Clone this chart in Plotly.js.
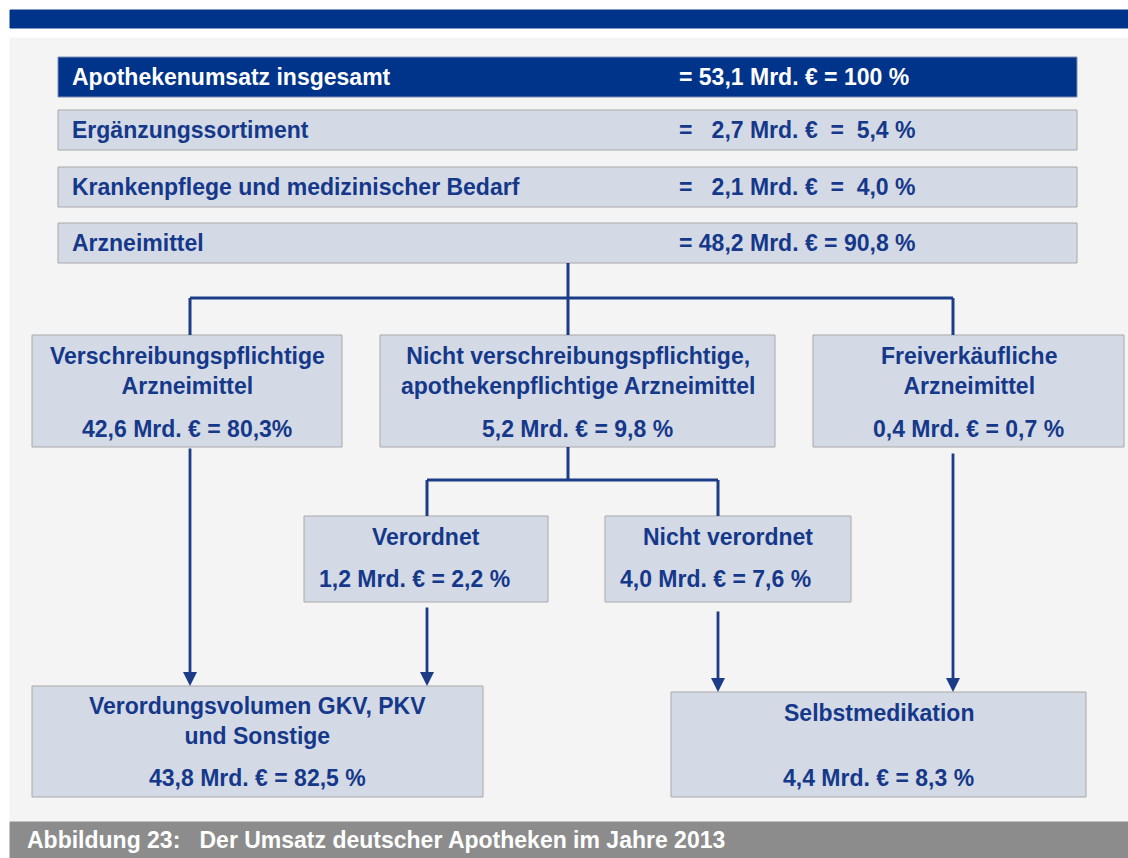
<!DOCTYPE html>
<html>
<head>
<meta charset="utf-8">
<script src="https://cdn.plot.ly/plotly-3.0.1.min.js"></script>
<style>
  body { margin: 0; background: #ffffff; }
  #chart { width: 1128px; height: 858px; }
</style>
</head>
<body>
<div id="chart"></div>
<script>
// Values (Mrd. € and % of total turnover)
var headNames = ['Apothekenumsatz insgesamt', 'Ergänzungssortiment', 'Krankenpflege und medizinischer Bedarf', 'Arzneimittel'];
var headAmounts = [53.1, 2.7, 2.1, 48.2];
var headShares = [100, 5.4, 4.0, 90.8];

var drugNames = ['Verschreibungspflichtige<br>Arzneimittel', 'Nicht verschreibungspflichtige,<br>apothekenpflichtige Arzneimittel', 'Freiverkäufliche<br>Arzneimittel'];
var drugAmounts = [42.6, 5.2, 0.4];
var drugShares = [80.3, 9.8, 0.7];

var otcNames = ['Verordnet', 'Nicht verordnet'];
var otcAmounts = [1.2, 4.0];
var otcShares = [2.2, 7.6];

var sumNames = ['Verordungsvolumen GKV, PKV<br>und Sonstige', 'Selbstmedikation'];
var sumAmounts = [43.8, 4.4];
var sumShares = [82.5, 8.3];

var caption = 'Abbildung 23:\u00a0\u00a0 Der Umsatz deutscher Apotheken im Jahre 2013';

// Layout of the boxes (pixel grid 1128 x 858, y downwards)
var headBoxes = [[58, 1077, 57, 97], [58, 1077, 110, 150], [58, 1077, 167, 207], [58, 1077, 223, 263]];
var drugBoxes = [[32, 342, 335, 447], [380, 775, 335, 447], [813, 1124, 335, 447]];
var otcBoxes = [[304, 548, 516, 602], [605, 851, 516, 602]];
var sumBoxes = [[32, 483, 686, 797], [671, 1086, 692, 797]];

var NAVY = '#00338a';
var TEXT = '#15388a';
var LINE = '#1d3c88';
var FILL = '#d4dae5';
var EDGE = '#a8a8a8';
var FONT = 'Liberation Sans, Arial, sans-serif';
var NB = '\u00a0';

function de(v) {
    return v >= 100 ? String(v) : v.toFixed(1).replace('.', ',');
}

var shapes = [];
var annotations = [];

function rect(b, fill, line) {
    shapes.push({type: 'rect', xref: 'x', yref: 'y', x0: b[0], x1: b[1], y0: b[2], y1: b[3],
        fillcolor: fill, line: {color: line, width: 1}, layer: 'below'});
}
function seg(x0, y0, x1, y1) {
    shapes.push({type: 'line', xref: 'x', yref: 'y', x0: x0, y0: y0, x1: x1, y1: y1,
        line: {color: LINE, width: 3}});
}
function label(x, y, text, color, anchor) {
    annotations.push({x: x, y: y, xref: 'x', yref: 'y', text: '<b>' + text + '</b>', showarrow: false,
        xanchor: anchor || 'center', yanchor: 'middle', align: 'center',
        font: {family: FONT, size: 23, color: color || TEXT}});
}
function arrow(x, yFrom, yTo) {
    annotations.push({x: x, y: yTo, ax: x, ay: yFrom, xref: 'x', yref: 'y', axref: 'x', ayref: 'y',
        text: '', showarrow: true, arrowhead: 2, arrowsize: 1, arrowwidth: 2.8,
        arrowcolor: LINE, standoff: 0, startstandoff: 0});
}

// background pieces
rect([10, 1128, 38, 822], '#f4f4f4', '#f4f4f4');
rect([10, 1128, 10, 28], NAVY, NAVY);
rect([10, 1128, 822, 858], '#8c8c8c', '#8c8c8c');
label(25, 840, caption, '#ffffff', 'left');

// top rows
headNames.forEach(function(name, i) {
    var b = headBoxes[i];
    var dark = i === 0;
    rect(b, dark ? NAVY : FILL, dark ? '#7f8fb5' : EDGE);
    var yc = (b[2] + b[3]) / 2;
    var a = headAmounts[i], s = headShares[i];
    var small = a < 10;
    var value = '= ' + (small ? NB + NB : '') + de(a) + ' Mrd. €' + (small ? NB + ' ' : ' ') +
        '= ' + (s < 10 ? NB : '') + de(s) + ' %';
    label(70, yc, name, dark ? '#ffffff' : TEXT, 'left');
    label(677, yc, value, dark ? '#ffffff' : TEXT, 'left');
});

// connectors from Arzneimittel
seg(568, 263, 568, 298);
seg(190, 298, 953, 298);
[190, 568, 953].forEach(function(x) { seg(x, 298, x, 335); });

// drug classes
drugNames.forEach(function(name, i) {
    var b = drugBoxes[i];
    var xc = (b[0] + b[1]) / 2;
    rect(b, FILL, EDGE);
    label(xc, 371, name);
    label(xc, 429, de(drugAmounts[i]) + ' Mrd. € = ' + de(drugShares[i]) + (i === 0 ? '%' : ' %'));
});

// split of non-prescription drugs
seg(568, 447, 568, 480);
seg(427, 480, 718, 480);
seg(427, 480, 427, 516);
seg(718, 480, 718, 516);

otcNames.forEach(function(name, i) {
    var b = otcBoxes[i];
    rect(b, FILL, EDGE);
    label((b[0] + b[1]) / 2, 537, name);
    label(b[0] + 13, 579, de(otcAmounts[i]) + ' Mrd. € = ' + de(otcShares[i]) + ' %', TEXT, 'left');
});

// arrows into the totals
arrow(190, 447, 686);
arrow(427, 606, 686);
arrow(718, 610, 692);
arrow(953, 452, 692);

sumNames.forEach(function(name, i) {
    var b = sumBoxes[i];
    var xc = (b[0] + b[1]) / 2;
    rect(b, FILL, EDGE);
    label(xc, i === 0 ? 721 : 713, name);
    label(xc, 778, de(sumAmounts[i]) + ' Mrd. € = ' + de(sumShares[i]) + ' %');
});

var trace = {x: [0], y: [0], mode: 'markers', marker: {opacity: 0}, hoverinfo: 'skip', showlegend: false};

var layout = {
    width: 1128,
    height: 858,
    margin: {l: 0, r: 0, t: 0, b: 0},
    paper_bgcolor: '#ffffff',
    plot_bgcolor: '#ffffff',
    xaxis: {range: [0, 1128], visible: false, fixedrange: true},
    yaxis: {range: [858, 0], visible: false, fixedrange: true},
    shapes: shapes,
    annotations: annotations,
    showlegend: false
};

Plotly.newPlot('chart', [trace], layout, {staticPlot: true});
</script>
</body>
</html>
